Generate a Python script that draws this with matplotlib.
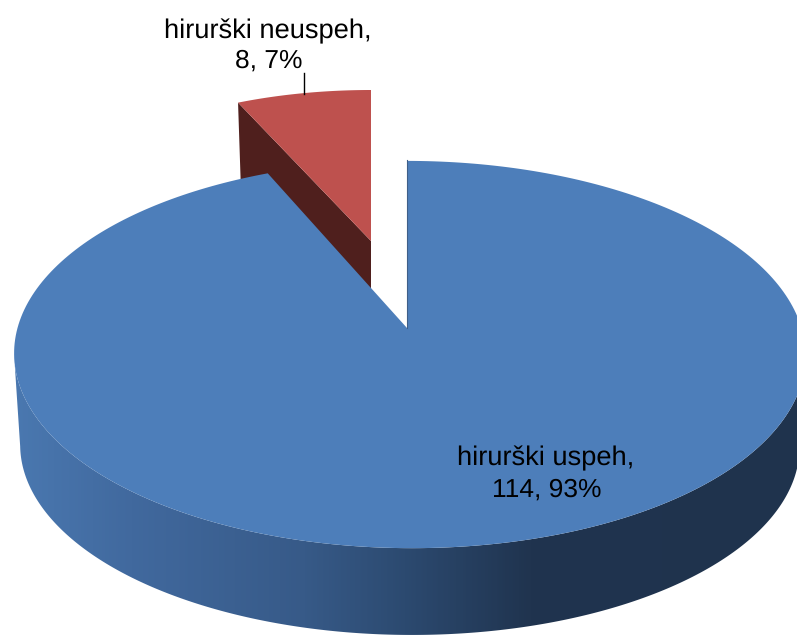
import numpy as np
import matplotlib
matplotlib.use("Agg")
import matplotlib.pyplot as plt
from matplotlib.colors import LinearSegmentedColormap
from matplotlib.patches import Polygon

labels = ["hirurški uspeh", "hirurški neuspeh"]
counts = [114, 8]
percents = [93, 7]

plt.rcParams["font.family"] = ["Liberation Sans", "DejaVu Sans"]
plt.rcParams["text.hinting"] = "none"

# circle -> picture, y up in circle coords, k gives the perspective
def project(cx, cy, a, b, k, lean, x, y):
    px = cx + a * x / (1 + k * y) + lean * (1 - y)
    return px, cy - b * y / (1 + k * y)

def wedge_top(geom, start, end):
    t = np.radians(np.linspace(start, end, 300))
    px, py = project(*geom, np.cos(t), np.sin(t))
    return np.column_stack([np.r_[geom[0], px], np.r_[geom[1], py]])

sweep = 360 * counts[0] / sum(counts)
split = 90 - sweep + 360  # blue runs clockwise from 12 o'clock

fig = plt.figure(figsize=(7.97, 6.35), dpi=100)
ax = fig.add_axes([0, 0, 1, 1])
ax.set_xlim(0, 797)
ax.set_ylim(635, 0)
ax.axis("off")

main = (407, 328, 392, 190, 0.137, 2.5)
lower = (407, 420, 386, 185.5, 0.137, 2.5)
red = (371, 241, 332, 151, 0.0, 0.0)

# dark cut face of the pulled out slice, blue goes over it
red_pts = wedge_top(red, split, 90)
dark = np.array([red_pts[1], red_pts[0], (red[0], red[1] + 60), (red_pts[1][0] + 3, red_pts[1][1] + 90)])
ax.add_patch(Polygon(dark, closed=True, fc="#4f1f1d", ec="none", zorder=1))
ax.add_patch(Polygon(red_pts, closed=True, fc="#be514e", ec="none", zorder=2))

# side of the big slice
t = np.radians(np.linspace(188, 352, 400))
ux, uy = project(*main, np.cos(t), np.sin(t))
lx, ly = project(*lower, np.cos(t), np.sin(t))
side = Polygon(np.column_stack([np.r_[ux, lx[::-1]], np.r_[uy, ly[::-1]]]), closed=True, fc="none", ec="none")
ax.add_patch(side)
side_cmap = LinearSegmentedColormap.from_list("side", [
    (0.0, "#4a78b0"), (0.15, "#41699e"), (0.37, "#375a88"),
    (0.5, "#2c4a70"), (0.66, "#20344f"), (1.0, "#1f334d")])
grad = ax.imshow(np.linspace(0, 1, 400)[None, :], cmap=side_cmap, extent=(13, 797, 635, 340),
                 aspect="auto", zorder=3)
grad.set_clip_path(side)
ax.set_xlim(0, 797)
ax.set_ylim(635, 0)

# top of the big slice
ax.add_patch(Polygon(wedge_top(main, 90, split - 360), closed=True, fc="#4d7eba", ec="none", zorder=4))
ax.plot([407, 407], [160, 328], color="#3f5f88", lw=0.8, zorder=4)

ax.plot([304, 304], [73, 94], color="black", lw=1, zorder=5)

ax.text(268, 38, f"{labels[1]},", ha="center", va="baseline", fontsize=19.6, color="black", zorder=6)
ax.text(269, 68, f"{counts[1]}, {percents[1]}%", ha="center", va="baseline", fontsize=19, color="black", zorder=6)
ax.text(546, 465, f"{labels[0]},", ha="center", va="baseline", fontsize=19.6, color="black", zorder=6)
ax.text(547, 497, f"{counts[0]}, {percents[0]}%", ha="center", va="baseline", fontsize=19, color="black", zorder=6)

fig.savefig("out.png", dpi=100)
plt.close()
